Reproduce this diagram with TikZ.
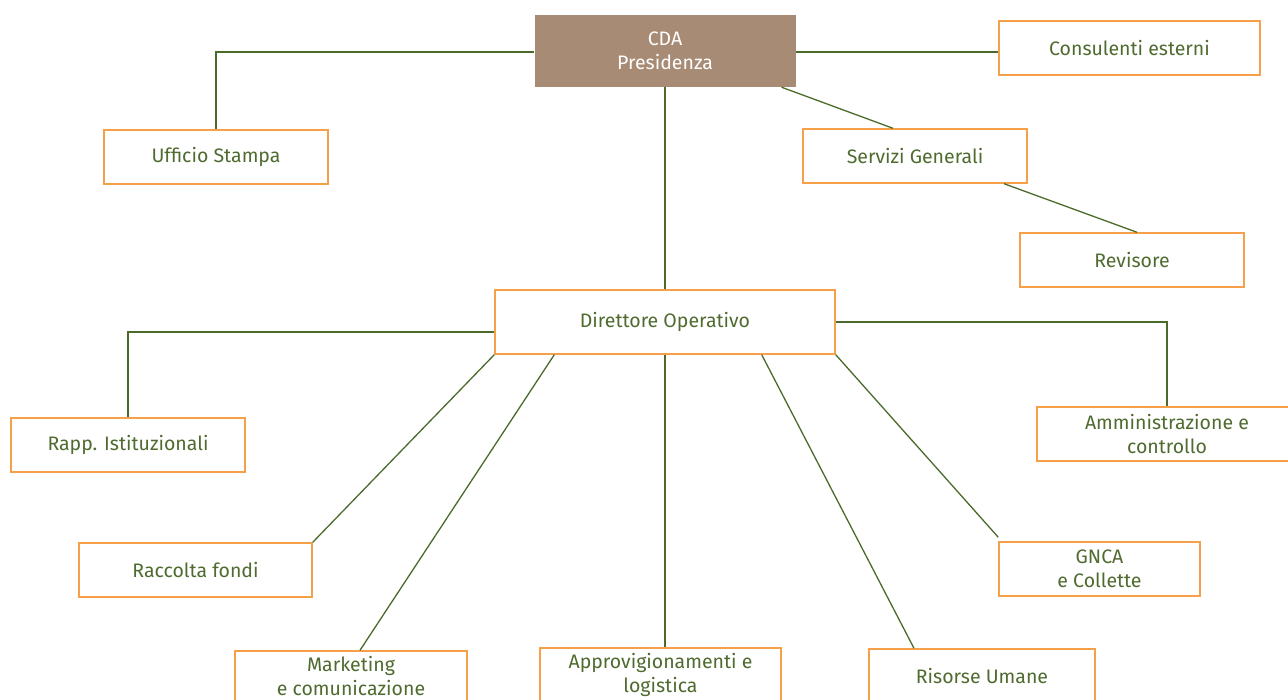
\documentclass[tikz,border=0pt]{standalone}
\usepackage{fontspec}
\setmainfont{Fira Sans}
\definecolor{linegreen}{HTML}{4A6B2A}
\definecolor{textgreen}{HTML}{4F6B2F}
\definecolor{boxorange}{HTML}{F7A04A}
\definecolor{cdabrown}{HTML}{A88B74}
\begin{document}
\begin{tikzpicture}[x=1pt,y=-1pt,
  box/.style={draw=boxorange,line width=1.4pt,fill=white,rectangle,inner sep=0pt,
    text=textgreen,align=center,font=\fontsize{19.5}{24}\selectfont},
  cda/.style={fill=cdabrown,rectangle,inner sep=0pt,text=white,align=center,
    font=\fontsize{19.5}{24}\selectfont},
  conn/.style={draw=linegreen,line width=1.3pt}]
\useasboundingbox (0,0) rectangle (1288,700);
% nodes
\node[cda,minimum width=261pt,minimum height=72pt] (cda) at (665,51) {CDA\\Presidenza};
\node[box,minimum width=261pt,minimum height=54pt] (cons) at (1129.5,48) {Consulenti esterni};
\node[box,minimum width=224pt,minimum height=54pt] (uff) at (216,157) {Ufficio Stampa};
\node[box,minimum width=224pt,minimum height=54pt] (serv) at (915,156) {Servizi Generali};
\node[box,minimum width=224pt,minimum height=54pt] (rev) at (1132,260) {Revisore};
\node[box,minimum width=340pt,minimum height=64pt] (dir) at (665,322) {Direttore Operativo};
\node[box,minimum width=234pt,minimum height=54pt] (rapp) at (128,445) {Rapp. Istituzionali};
\node[box,minimum width=260pt,minimum height=54pt] (amm) at (1167,434) {Amministrazione e\\controllo};
\node[box,minimum width=233pt,minimum height=54pt] (racc) at (195.5,570) {Raccolta fondi};
\node[box,minimum width=201pt,minimum height=54pt] (gnca) at (1099.5,569) {GNCA\\e Collette};
\node[box,minimum width=232pt,minimum height=50pt] (mkt) at (351,676) {Marketing\\e comunicazione};
\node[box,minimum width=241pt,minimum height=54pt] (appr) at (660.5,675) {Approvigionamenti e\\logistica};
\node[box,minimum width=226pt,minimum height=54pt] (ris) at (982,676) {Risorse Umane};
% connectors
\coordinate (c1) at (216,52);
\coordinate (c2) at (128,332);
\coordinate (c3) at (1167,322);
\draw[conn] (cda.west |- c1) -- (c1) -- (uff.north);
\draw[conn] (cda.east |- c1) -- (cons.west |- c1);
\draw[conn] (cda.south) -- (dir.north);
\draw[conn] ([xshift=116.5pt]cda.south) -- ([xshift=-22pt]serv.north);
\draw[conn] ([xshift=89pt]serv.south) -- ([xshift=5pt]rev.north);
\draw[conn] (dir.west |- c2) -- (c2) -- (rapp.north);
\draw[conn] (dir.east |- c3) -- (c3) -- (amm.north);
\draw[conn] (dir.south west) -- (racc.north east);
\draw[conn] ([xshift=60pt]dir.south west) -- ([xshift=9pt]mkt.north);
\draw[conn] (dir.south) -- (dir.south |- appr.north);
\draw[conn] ([xshift=-74pt]dir.south east) -- ([xshift=-68pt]ris.north);
\draw[conn] (dir.south east) -- ([yshift=4pt]gnca.north west);
\end{tikzpicture}
\end{document}
